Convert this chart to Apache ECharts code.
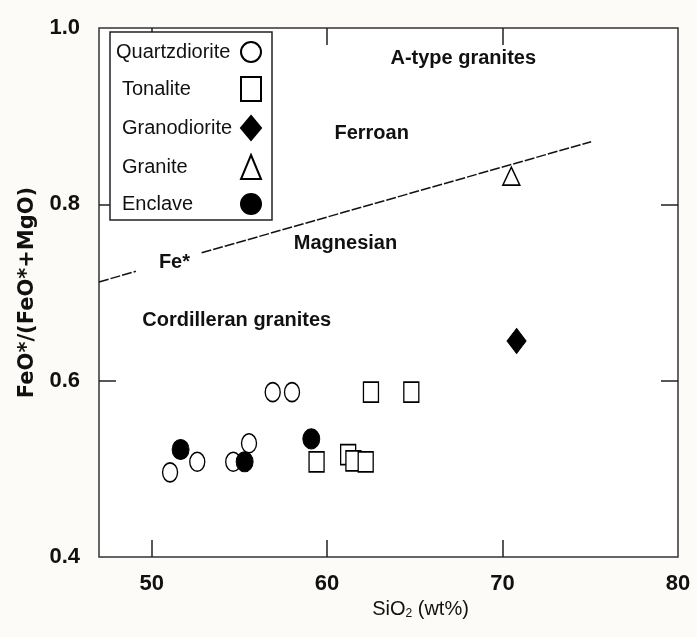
<!DOCTYPE html>
<html>
<head>
<meta charset="utf-8">
<script src="https://cdn.jsdelivr.net/npm/echarts@6/dist/echarts.min.js"></script>
<style>html,body{margin:0;padding:0;background:#fcfbf7;}#c{width:697px;height:637px;}</style>
</head>
<body>
<div id="c"></div>
<script>
// ---- data ----
var quartzdiorite = [[51.05,0.496],[52.6,0.508],[54.65,0.508],[55.55,0.529],[56.9,0.587],[58.0,0.587]];
var tonalite = [[59.4,0.508],[61.2,0.516],[61.5,0.509],[62.2,0.508],[62.5,0.587],[64.8,0.587]];
var granodiorite = [[70.8,0.645]];
var granite = [[70.5,0.832]];
var enclave = [[51.65,0.522],[55.3,0.508],[59.1,0.534]];
var feLine = [[47,0.712],[49.1,0.724],[51,'-'],[52.85,0.745],[75.05,0.871]];
var annotations = [
  ['A-type granites', 67.76, 0.965],
  ['Ferroan', 62.54, 0.880],
  ['Magnesian', 61.05, 0.756],
  ['Fe*', 51.3, 0.734],
  ['Cordilleran granites', 54.85, 0.668]
];
var xTickValues = [50,60,70];
var xLabelValues = [50,60,70,80];
var yTickValues = [0.6,0.8];
var yLabelValues = [0.4,0.6,0.8,1.0];
var legendNames = ['Quartzdiorite','Tonalite','Granodiorite','Granite','Enclave'];

var SANS = "'Liberation Sans',Arial,sans-serif";
var chart = echarts.init(document.getElementById('c'));
var tickStyle = {show:true, inside:true, length:17, lineStyle:{color:'#222', width:1.5}};
var open = {color:'#fff', borderColor:'#000', borderWidth:1.5, opacity:1};
var filled = {color:'#000', borderColor:'#000', borderWidth:1, opacity:1};
chart.setOption({
  backgroundColor:'#fcfbf7',
  animation:false,
  grid:{left:99, right:19, top:28, bottom:80, show:true, backgroundColor:'#fff', borderColor:'#333', borderWidth:1.5},
  legend:{
    orient:'vertical', left:110, top:32, align:'right',
    data:legendNames,
    itemWidth:20, itemHeight:24, itemGap:13, symbolKeepAspect:false,
    padding:[9,10,5,6],
    backgroundColor:'#fff', borderColor:'#222', borderWidth:1.5, borderRadius:0,
    selectedMode:false,
    formatter:function(n){ return n==='Quartzdiorite' ? '{a|'+n+'}' : '{b|'+n+'}'; },
    textStyle:{fontFamily:SANS, fontSize:20, color:'#111',
      rich:{a:{width:120, align:'left', fontSize:20, fontFamily:SANS, color:'#111'},
            b:{width:114, align:'left', padding:[0,0,0,6], fontSize:20, fontFamily:SANS, color:'#111'}}}
  },
  xAxis:[{
    type:'value', min:47, max:80, position:'bottom',
    name:'SiO{sub|2} (wt%)', nameLocation:'middle', nameGap:34,
    nameTextStyle:{fontFamily:SANS, fontSize:20, color:'#111', padding:[0,0,0,64],
      rich:{sub:{fontFamily:SANS, fontSize:12, verticalAlign:'bottom', color:'#111'}}},
    axisLine:{show:false}, splitLine:{show:false},
    axisTick:Object.assign({customValues:xTickValues}, tickStyle),
    axisLabel:{customValues:xLabelValues, margin:16, fontFamily:SANS, fontWeight:'bold', fontSize:22, color:'#111'}
  },{
    type:'value', min:47, max:80, position:'top',
    axisLine:{show:false}, splitLine:{show:false}, axisLabel:{show:false},
    axisTick:Object.assign({customValues:xTickValues}, tickStyle)
  }],
  yAxis:[{
    type:'value', min:0.4, max:1.0, interval:0.2, position:'left',
    name:'FeO*/(FeO*+MgO)', nameLocation:'middle', nameGap:60, nameRotate:90,
    nameTextStyle:{fontFamily:'DejaVu Sans, sans-serif', fontWeight:'bold', fontSize:21, color:'#111'},
    axisLine:{show:false}, splitLine:{show:false},
    axisTick:Object.assign({customValues:yTickValues}, tickStyle),
    axisLabel:{customValues:yLabelValues, margin:19, fontFamily:SANS, fontWeight:'bold', fontSize:22, color:'#111',
      formatter:function(v){return v.toFixed(1);}}
  },{
    type:'value', min:0.4, max:1.0, interval:0.2, position:'right',
    axisLine:{show:false}, splitLine:{show:false}, axisLabel:{show:false},
    axisTick:Object.assign({customValues:yTickValues}, tickStyle)
  }],
  series:[
    {name:'Fe* line', type:'line', data:feLine, symbol:'none', silent:true, z:1,
     lineStyle:{color:'#111', width:1.5, type:[10,2]}},
    {name:'Quartzdiorite', type:'scatter', data:quartzdiorite, symbol:'circle', symbolSize:[15,19], itemStyle:open, z:3},
    {name:'Tonalite', type:'scatter', data:tonalite, symbol:'rect', symbolSize:[15,20], itemStyle:open, z:3},
    {name:'Granodiorite', type:'scatter', data:granodiorite, symbol:'diamond', symbolSize:[19,25], itemStyle:filled, z:3},
    {name:'Granite', type:'scatter', data:granite, symbol:'triangle', symbolSize:[17,18], itemStyle:open, z:3},
    {name:'Enclave', type:'scatter', data:enclave, symbol:'circle', symbolSize:[17,20], itemStyle:filled, z:4},
    {name:'annotations', type:'scatter', symbolSize:0, silent:true, z:2, itemStyle:{opacity:1},
     data:annotations.map(function(a){return {name:a[0], value:[a[1],a[2]]};}),
     label:{show:true, position:'inside', formatter:'{b}', fontFamily:SANS, fontWeight:'bold', fontSize:20, color:'#111'}}
  ]
});
</script>
</body>
</html>
